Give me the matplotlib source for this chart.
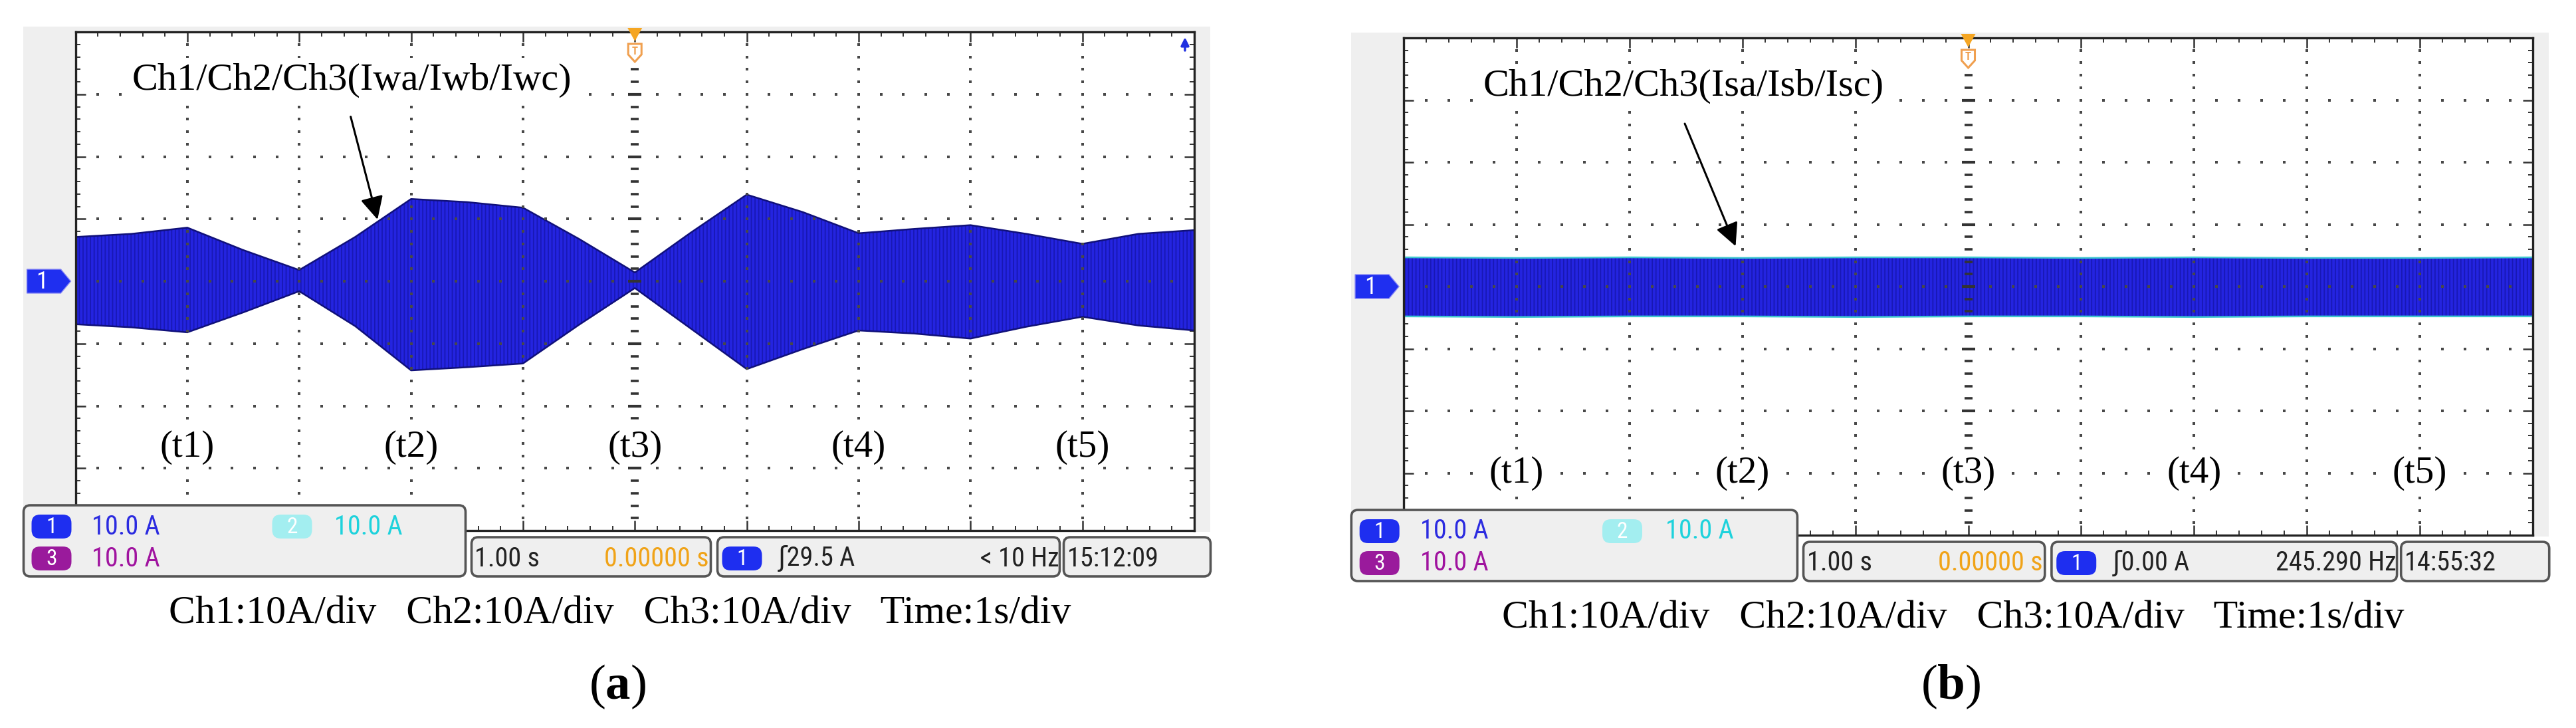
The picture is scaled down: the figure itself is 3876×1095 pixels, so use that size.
import numpy as np
import matplotlib.pyplot as plt
from matplotlib import font_manager
from matplotlib.patches import Rectangle, FancyBboxPatch, Polygon

W, H = 3876, 1095

# ---- data (x in s, 1 s/div; currents in A, 10 A/div) ----
time_a = [0.0, 0.5, 1.0, 1.5, 2.0, 2.5, 3.0, 3.5, 4.0, 4.5, 5.0,
          5.5, 6.0, 6.5, 7.0, 7.5, 8.0, 8.5, 9.0, 9.5, 10.0]
iw_upper = [7.1, 7.6, 8.6, 5.0, 1.8, 7.1, 13.2, 12.7, 11.8, 6.8, 1.4,
            7.8, 13.9, 11.1, 7.7, 8.4, 9.0, 7.6, 6.0, 7.6, 8.2]
iw_lower = [-6.9, -7.4, -8.2, -5.0, -1.6, -7.2, -14.3, -13.8, -13.2, -7.0, -1.1,
            -7.6, -14.1, -10.9, -7.9, -8.4, -9.2, -7.3, -5.7, -7.1, -7.9]

time_b = [0, 1, 2, 3, 4, 5, 6, 7, 8, 9, 10]
is_upper = [4.7, 4.6, 4.7, 4.6, 4.7, 4.7, 4.6, 4.7, 4.6, 4.6, 4.7]
is_lower = [-4.8, -4.9, -4.8, -4.8, -4.9, -4.8, -4.8, -4.9, -4.8, -4.8, -4.8]

stage_labels = ['(t1)', '(t2)', '(t3)', '(t4)', '(t5)']
stage_times = [1, 3, 5, 7, 9]

ch_scales = ['10.0 A', '10.0 A', '10.0 A']
status_a = ['1.00 s', '0.00000 s', '29.5 A', '< 10 Hz', '15:12:09']
status_b = ['1.00 s', '0.00000 s', '0.00 A', '245.290 Hz', '14:55:32']
caption = 'Ch1:10A/div   Ch2:10A/div   Ch3:10A/div   Time:1s/div'

# ---- fonts ----
names = {f.name for f in font_manager.fontManager.ttflist}
ui_font, ui_size = 'Liberation Sans', 27
for cand in ['Liberation Sans Narrow', 'Roboto Condensed', 'Open Sans Condensed']:
    if cand in names:
        ui_font, ui_size = cand, 29
        break
serif = 'Liberation Serif'
plt.rcParams['mathtext.fontset'] = 'custom'
plt.rcParams['mathtext.rm'] = serif
plt.rcParams['mathtext.bf'] = serif + ':bold'
plt.rcParams['hatch.color'] = '#1818b4'
plt.rcParams['hatch.linewidth'] = 1.3

fig = plt.figure(figsize=(W / 100, H / 100), dpi=100)
fig.patch.set_facecolor('white')

bg = fig.add_axes([0, 0, 1, 1], zorder=0)
bg.set_xlim(0, W); bg.set_ylim(H, 0); bg.axis('off')
ov = fig.add_axes([0, 0, 1, 1], zorder=3)
ov.set_xlim(0, W); ov.set_ylim(H, 0); ov.axis('off')


def draw_screen(x0, x1, y0, y1, t, up, lo, outline, note, note_xy, arr_from, arr_to, lab_y):
    ax = fig.add_axes([x0 / W, 1 - y1 / H, (x1 - x0) / W, (y1 - y0) / H], zorder=1)
    ax.set_xlim(0, 10)
    ax.set_ylim(-40, 40)
    ax.set_xticks(range(0, 11))
    ax.set_xticks(np.arange(0, 10.01, 0.2), minor=True)
    ax.set_yticks(range(-40, 41, 10))
    ax.set_yticks(np.arange(-40, 40.1, 2), minor=True)
    ax.tick_params(which='both', direction='in', top=True, right=True,
                   labelbottom=False, labelleft=False, color='#333')
    ax.tick_params(which='major', length=11, width=1.8)
    ax.tick_params(which='minor', length=5, width=1.4)
    for sp in ax.spines.values():
        sp.set_linewidth(2.4)
        sp.set_color('#222')

    # waveform
    ax.fill_between(t, lo, up, facecolor='#2424e0', edgecolor='#1818b4',
                    linewidth=0, hatch='|||', zorder=2)
    ax.plot(t, up, color=outline, lw=1.8, zorder=2)
    ax.plot(t, lo, color=outline, lw=1.8, zorder=2)

    # dotted graticule
    fx = np.arange(0.2, 10, 0.2)
    fy = np.arange(-38, 40, 2)
    for gx in [1, 2, 3, 4, 6, 7, 8, 9]:
        ax.plot(np.full_like(fy, gx), fy, ls='none', marker='s', ms=2.6,
                color='#484848', mew=0, zorder=3)
    for gy in [-30, -20, -10, 0, 10, 20, 30]:
        ax.plot(fx, np.full_like(fx, gy), ls='none', marker='s', ms=2.6,
                color='#484848', mew=0, zorder=3)
    ax.plot(np.full_like(fy, 5), fy, ls='none', marker='_', ms=9, mew=2.6,
            color='#333', zorder=3)
    ax.plot([5] * 7, [-30, -20, -10, 0, 10, 20, 30], ls='none', marker='_',
            ms=14, mew=3, color='#333', zorder=3)

    ax.text(note_xy[0], note_xy[1], note, ha='center', va='center', fontsize=42,
            family=serif, zorder=5,
            bbox=dict(facecolor='white', edgecolor='none', pad=6))
    ax.annotate('', xy=arr_to, xytext=arr_from, zorder=6,
                arrowprops=dict(arrowstyle='-|>,head_length=1.0,head_width=0.5',
                                mutation_scale=21, lw=2.2, color='black',
                                shrinkA=0, shrinkB=0))
    for lab, ts in zip(stage_labels, stage_times):
        ax.text(ts, lab_y, lab, ha='center', va='center', fontsize=41,
                family=serif, zorder=5,
                bbox=dict(facecolor='white', edgecolor='none', pad=1))
    return ax


def badge(x, y, num, color):
    ov.add_patch(FancyBboxPatch((x - 30, y - 18), 60, 36,
                                boxstyle='round,pad=0,rounding_size=13',
                                facecolor=color, edgecolor='none'))
    ov.text(x, y + 1, num, ha='center', va='center', color='white',
            fontsize=ui_size - 5, family=ui_font)


def box(xa, xb, ya, yb):
    ov.add_patch(FancyBboxPatch((xa, ya), xb - xa, yb - ya,
                                boxstyle='round,pad=0,rounding_size=10',
                                facecolor='#efefef', edgecolor='#555', lw=2.6))


def draw_frame(x0, x1, y0, y1, status, letter, blue_mark):
    s = (x1 - x0) / 1683.5
    # grey bezel round the screen
    bg.add_patch(Rectangle((x0 - 78 * s, y0 - 8), (x1 - x0) + 102 * s, (y1 - y0) + 10,
                           facecolor='#efefef', edgecolor='none'))
    # channel 1 ground marker
    yc = (y0 + y1) / 2
    ov.add_patch(Polygon([(x0 - 73, yc - 18), (x0 - 22, yc - 18), (x0 - 7, yc),
                          (x0 - 22, yc + 18), (x0 - 73, yc + 18)],
                         closed=True, facecolor='#1f2ff0', edgecolor='#8a8af5', lw=1))
    ov.text(x0 - 50, yc + 1, '1', ha='center', va='center', color='white',
            fontsize=ui_size - 3, family=ui_font)
    # trigger position marker
    xc = (x0 + x1) / 2
    ov.add_patch(Polygon([(xc - 11, y0 - 6), (xc + 11, y0 - 6), (xc, y0 + 14)],
                         closed=True, facecolor='#f5a623', edgecolor='none'))
    ov.add_patch(Polygon([(xc - 10, y0 + 18), (xc + 10, y0 + 18), (xc + 10, y0 + 34),
                          (xc, y0 + 45), (xc - 10, y0 + 34)],
                         closed=True, facecolor='white', edgecolor='#f0a050', lw=2.2))
    ov.text(xc, y0 + 29, 'T', ha='center', va='center', color='#f0a050',
            fontsize=12, family=ui_font, weight='bold')
    if blue_mark:
        ov.annotate('', xy=(x1 - 14, y0 + 8), xytext=(x1 - 14, y0 + 28),
                    arrowprops=dict(arrowstyle='-|>', color='#2030e0', lw=2.5,
                                    mutation_scale=18, shrinkA=0, shrinkB=0))

    # status bar
    box(x0 - 78 * s, x0 + 587 * s, y1 - 38, y1 + 69)
    ty1, ty3 = y1 - 6, y1 + 42
    badge(x0 - 36 * s, ty1, '1', '#1e2ef0')
    ov.text(x0 + 25 * s, ty1, ch_scales[0], va='center', color='#2b2be0',
            fontsize=ui_size, family=ui_font)
    badge(x0 + 326 * s, ty1, '2', '#a3eef0')
    ov.text(x0 + 390 * s, ty1, ch_scales[1], va='center', color='#1ed2dc',
            fontsize=ui_size, family=ui_font)
    badge(x0 - 36 * s, ty3, '3', '#9a1a9c')
    ov.text(x0 + 25 * s, ty3, ch_scales[2], va='center', color='#a0139f',
            fontsize=ui_size, family=ui_font)

    box(x0 + 596 * s, x0 + 956 * s, y1 + 10, y1 + 69)
    box(x0 + 966 * s, x0 + 1481 * s, y1 + 10, y1 + 69)
    box(x0 + 1487 * s, x0 + 1708 * s, y1 + 10, y1 + 69)
    ov.text(x0 + 601 * s, ty3, status[0], va='center', color='#222',
            fontsize=ui_size, family=ui_font)
    ov.text(x0 + 953 * s, ty3, status[1], va='center', ha='right', color='#f0a318',
            fontsize=ui_size, family=ui_font)
    badge(x0 + 1003 * s, ty3, '1', '#1e2ef0')
    ov.text(x0 + 1057 * s, ty3, '\u0283' + status[2], va='center', color='#222',
            fontsize=ui_size, family=[ui_font, 'DejaVu Sans'])
    ov.text(x0 + 1480 * s, ty3, status[3], va='center', ha='right', color='#222',
            fontsize=ui_size, family=ui_font)
    ov.text(x0 + 1492 * s, ty3, status[4], va='center', color='#222',
            fontsize=ui_size, family=ui_font)

    # captions
    ov.text(x0 + 819.5 * s, y1 + 125, caption, ha='center', va='center',
            fontsize=43, family=serif)
    ov.text(x0 + 816 * s, 1033, r'($\mathbf{' + letter + '}$)', ha='center',
            va='center', fontsize=54, family=serif)


# (a) wind-side currents
draw_frame(113.5, 1797, 48, 798, status_a, 'a', True)
draw_screen(113.5, 1797, 48, 798, time_a, iw_upper, iw_lower, '#10107a',
            'Ch1/Ch2/Ch3(Iwa/Iwb/Iwc)', (2.47, 32.2), (2.46, 26.4), (2.70, 9.9), -26.7)

# (b) grid-side currents
draw_frame(2112, 3811, 57, 805, status_b, 'b', False)
draw_screen(2112, 3811, 57, 805, time_b, is_upper, is_lower, '#3ec6cf',
            'Ch1/Ch2/Ch3(Isa/Isb/Isc)', (2.48, 32.2), (2.49, 26.2), (2.94, 6.5), -30.0)

fig.savefig('out.png', dpi=100)
